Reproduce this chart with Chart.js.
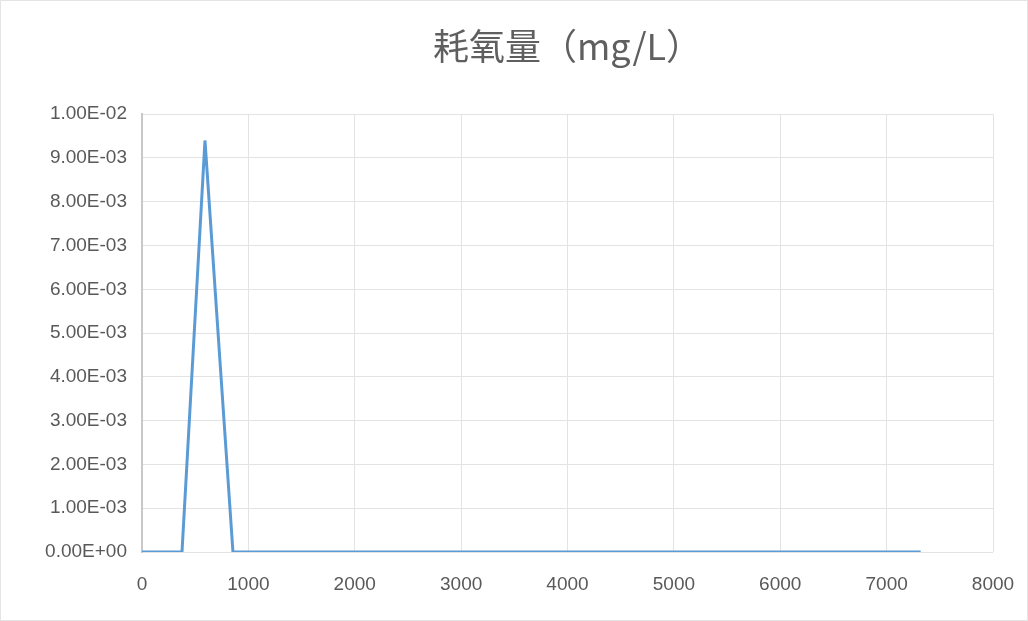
<!DOCTYPE html>
<html>
<head>
<meta charset="utf-8">
<script src="https://cdn.jsdelivr.net/npm/chart.js@4/dist/chart.umd.min.js"></script>
<style>
  html, body { margin: 0; padding: 0; background: #ffffff; }
  #wrap { position: relative; width: 1028px; height: 621px; box-sizing: border-box; border: 1px solid #e4e4e4; }
  canvas { display: block; }
</style>
</head>
<body>
<div id="wrap"><canvas id="c" width="1026" height="619"></canvas></div>
<script>
// Elapsed time (x) and oxygen consumption (mg/L) samples
const days = [0, 376, 592, 855, 7320];
const oxygen = [0, 0, 0.0094, 0, 0];

// Axis ranges and tick steps
const xTicks = [0, 1000, 2000, 3000, 4000, 5000, 6000, 7000, 8000];
const yMax = 0.01;
const yStep = 0.001;

const chartTitle = '耗氧量（mg/L）';

function sci(v) {
  if (Math.abs(v) < 1e-12) return '0.00E+00';
  const s = v.toExponential(2);           // e.g. "1.00e-2"
  const [m, e] = s.split('e');
  const n = parseInt(e, 10);
  const sign = n < 0 ? '-' : '+';
  const mag = String(Math.abs(n)).padStart(2, '0');
  return m + 'E' + sign + mag;
}

const points = days.map((d, i) => ({ x: d, y: oxygen[i] }));
const tickFont = { family: '"Liberation Sans", sans-serif', size: 19 };

new Chart(document.getElementById('c'), {
  type: 'scatter',
  data: {
    datasets: [{
      data: points,
      showLine: true,
      borderColor: '#5b9bd5',
      backgroundColor: '#5b9bd5',
      borderWidth: 3,
      pointRadius: 0,
      tension: 0
    }]
  },
  options: {
    responsive: false,
    animation: false,
    layout: { padding: { left: 8, right: 34, top: 24, bottom: 10 } },
    plugins: {
      legend: { display: false },
      tooltip: { enabled: false },
      title: {
        display: true,
        fullSize: false,
        text: chartTitle,
        color: '#5f5f5f',
        font: { family: '"Noto Sans CJK SC", "Liberation Sans", sans-serif', size: 36, weight: 'normal' },
        padding: { top: 0, bottom: 46 }
      }
    },
    scales: {
      x: {
        type: 'linear',
        min: xTicks[0],
        max: xTicks[xTicks.length - 1],
        afterBuildTicks: (axis) => { axis.ticks = xTicks.map(v => ({ value: v })); },
        afterFit: (scale) => {
          scale.height = 58;
          scale.paddingLeft = 0;
          scale.paddingRight = 0;
        },
        ticks: {
          color: '#595959',
          font: tickFont,
          padding: 21,
          maxRotation: 0,
          callback: (v) => String(v)
        },
        grid: { color: '#e3e3e3', lineWidth: 1, drawTicks: false },
        border: { display: false }
      },
      y: {
        type: 'linear',
        min: 0,
        max: yMax,
        ticks: {
          stepSize: yStep,
          color: '#595959',
          font: tickFont,
          padding: 15,
          callback: (v) => sci(v)
        },
        afterFit: (scale) => { scale.width = 133; },
        grid: { color: '#e3e3e3', lineWidth: 1, drawTicks: false },
        border: { display: true, color: '#c8c8c8', width: 2 }
      }
    }
  }
});
</script>
</body>
</html>
